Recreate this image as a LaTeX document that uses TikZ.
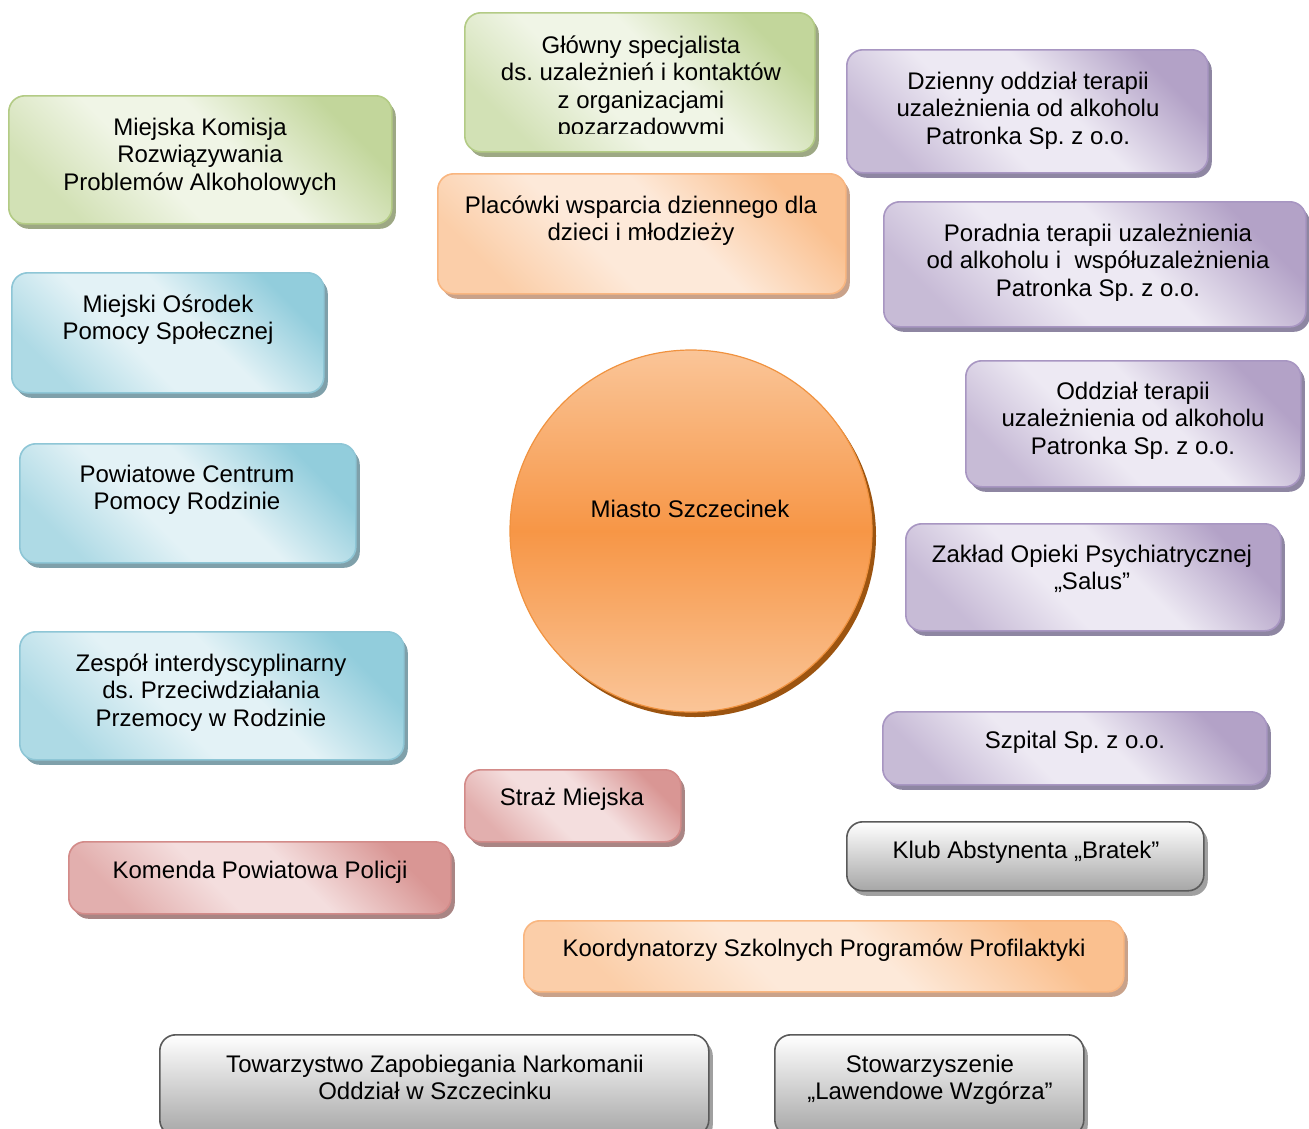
\documentclass[tikz,border=0pt]{standalone}
\usepackage{fontspec}
\setmainfont{Liberation Sans}
\usetikzlibrary{shadows}
\definecolor{gDark}{HTML}{C2D69B}\definecolor{gLight}{HTML}{F0F5E6}\definecolor{gLine}{HTML}{B3CB85}\definecolor{gShad}{HTML}{9DA884}
\definecolor{pDark}{HTML}{B3A2C7}\definecolor{pLight}{HTML}{EDE9F3}\definecolor{pLine}{HTML}{A896C2}\definecolor{pShad}{HTML}{8E86A2}
\definecolor{oDark}{HTML}{FAC08F}\definecolor{oLight}{HTML}{FDE9D9}\definecolor{oLine}{HTML}{F9B680}\definecolor{oShad}{HTML}{C9A28A}
\definecolor{bDark}{HTML}{92CDDC}\definecolor{bLight}{HTML}{E3F2F6}\definecolor{bLine}{HTML}{8EC6D6}\definecolor{bShad}{HTML}{7FA0AA}
\definecolor{rDark}{HTML}{D99694}\definecolor{rLight}{HTML}{F4DEDE}\definecolor{rLine}{HTML}{D38B89}\definecolor{rShad}{HTML}{A98584}
\definecolor{kBot}{HTML}{A6A6A6}\definecolor{kLine}{HTML}{5A5A5A}\definecolor{kShad}{HTML}{A0A0A0}
\definecolor{cMid}{HTML}{F79646}\definecolor{cEdge}{HTML}{FAC598}\definecolor{cLine}{HTML}{F0923F}\definecolor{cShad}{HTML}{9C5410}
\newcommand\mkshade[3]{\pgfdeclareverticalshading{#1}{100bp}{color(0bp)=(#2!65!#3); color(25bp)=(#2!65!#3); color(42bp)=(#3); color(56bp)=(#3); color(75bp)=(#2); color(100bp)=(#2)}}
\mkshade{shG}{gDark}{gLight}
\mkshade{shP}{pDark}{pLight}
\mkshade{shO}{oDark}{oLight}
\mkshade{shB}{bDark}{bLight}
\mkshade{shR}{rDark}{rLight}
\newcommand\topstrut{\rule{0pt}{23pt}}
\tikzset{
  obox/.style={rectangle, rounded corners=16pt, inner sep=0pt, anchor=north west, line width=1.6pt},
  diag/.style n args={3}{obox, draw=#2, shade, shading=#1, shading angle=-45,
      drop shadow={shadow xshift=4pt, shadow yshift=-5pt, fill=#3, opacity=1}},
  greenbox/.style={diag={shG}{gLine}{gShad}},
  purplebox/.style={diag={shP}{pLine}{pShad}},
  orangebox/.style={diag={shO}{oLine}{oShad}},
  bluebox/.style={diag={shB}{bLine}{bShad}},
  redbox/.style={diag={shR}{rLine}{rShad}},
  graybox/.style={obox, draw=kLine, top color=white, bottom color=kBot,
      drop shadow={shadow xshift=4pt, shadow yshift=-5pt, fill=kShad, opacity=1}},
  lbl/.style={anchor=north, align=center, inner sep=0pt, font=\fontsize{24}{27.5}\selectfont\frenchspacing, text=black},
}
\begin{document}
\begin{tikzpicture}[x=1pt,y=-1pt]
\useasboundingbox (0,0) rectangle (1309,1128);
% central circle
\node[circle, minimum size=362pt, inner sep=0pt, draw=cLine, line width=1.2pt,
  top color=cEdge, bottom color=cEdge, middle color=cMid,
  drop shadow={shadow xshift=4pt, shadow yshift=-5pt, fill=cShad, opacity=1}] (city) at (691,531) {};
\node[lbl] (tcity) at (690,494) {\topstrut Miasto Szczecinek};
% green
\node[greenbox, minimum width=350pt, minimum height=139pt] (glowny) at (464,12) {};
\begin{scope}
\clip (464,12) rectangle (814,133);
\node[lbl] (tglowny) at (641,30) {\topstrut Główny specjalista\\ds. uzależnień i kontaktów\\z organizacjami\\pozarządowymi};
\end{scope}
\node[greenbox, minimum width=383pt, minimum height=128pt] (mkrpa) at (8,95) {};
\node[lbl] (tmkrpa) at (200,112) {\topstrut Miejska Komisja\\Rozwiązywania\\Problemów Alkoholowych};
% purple
\node[purplebox, minimum width=361pt, minimum height=123pt] (dzienny) at (846,49) {};
\node[lbl] (tdzienny) at (1028,66) {\topstrut Dzienny oddział terapii\\uzależnienia od alkoholu\\Patronka Sp. z o.o.};
\node[purplebox, minimum width=422pt, minimum height=125pt] (poradnia) at (883,201) {};
\node[lbl] (tporadnia) at (1098,218) {\topstrut Poradnia terapii uzależnienia\\od alkoholu i~ współuzależnienia\\Patronka Sp. z o.o.};
\node[purplebox, minimum width=335pt, minimum height=126pt] (oddzial) at (965,360) {};
\node[lbl] (toddzial) at (1133,376) {\topstrut Oddział terapii\\uzależnienia od alkoholu\\Patronka Sp. z o.o.};
\node[purplebox, minimum width=375pt, minimum height=107pt] (salus) at (905,523) {};
\node[lbl] (tsalus) at (1092,539) {\topstrut Zakład Opieki Psychiatrycznej\\„Salus”};
\node[purplebox, minimum width=384pt, minimum height=73pt] (szpital) at (882,711) {};
\node[lbl] (tszpital) at (1075,725) {\topstrut Szpital Sp. z o.o.};
% orange
\node[orangebox, minimum width=408pt, minimum height=120pt] (placowki) at (437,173) {};
\node[lbl] (tplacowki) at (641,190) {\topstrut Placówki wsparcia dziennego dla\\dzieci i młodzieży};
\node[orangebox, minimum width=600pt, minimum height=71pt] (koord) at (523,920) {};
\node[lbl] (tkoord) at (824,933) {\topstrut Koordynatorzy Szkolnych Programów Profilaktyki};
% blue
\node[bluebox, minimum width=312pt, minimum height=120pt] (mops) at (11,272) {};
\node[lbl] (tmops) at (168,289) {\topstrut Miejski Ośrodek\\Pomocy Społecznej};
\node[bluebox, minimum width=336pt, minimum height=119pt] (pcpr) at (19,443) {};
\node[lbl] (tpcpr) at (187,459) {\topstrut Powiatowe Centrum\\Pomocy Rodzinie};
\node[bluebox, minimum width=384pt, minimum height=128pt] (zespol) at (19,631) {};
\node[lbl] (tzespol) at (211,648) {\topstrut Zespół interdyscyplinarny\\ds. Przeciwdziałania\\Przemocy w Rodzinie};
% red
\node[redbox, minimum width=216pt, minimum height=72pt] (straz) at (464,769) {};
\node[lbl] (tstraz) at (572,782) {\topstrut Straż Miejska};
\node[redbox, minimum width=382pt, minimum height=72pt] (policja) at (68,841) {};
\node[lbl] (tpolicja) at (260,855) {\topstrut Komenda Powiatowa Policji};
% gray
\node[graybox, minimum width=357pt, minimum height=69pt] (klub) at (846,821) {};
\node[lbl] (tklub) at (1026,835) {\topstrut Klub Abstynenta „Bratek”};
\node[graybox, minimum width=549pt, minimum height=101pt] (tzn) at (159,1034) {};
\node[lbl] (ttzn) at (435,1049) {\topstrut Towarzystwo Zapobiegania Narkomanii\\Oddział w Szczecinku};
\node[graybox, minimum width=309pt, minimum height=101pt] (lawenda) at (774,1034) {};
\node[lbl] (tlawenda) at (930,1049) {\topstrut Stowarzyszenie\\„Lawendowe Wzgórza”};
\end{tikzpicture}
\end{document}
